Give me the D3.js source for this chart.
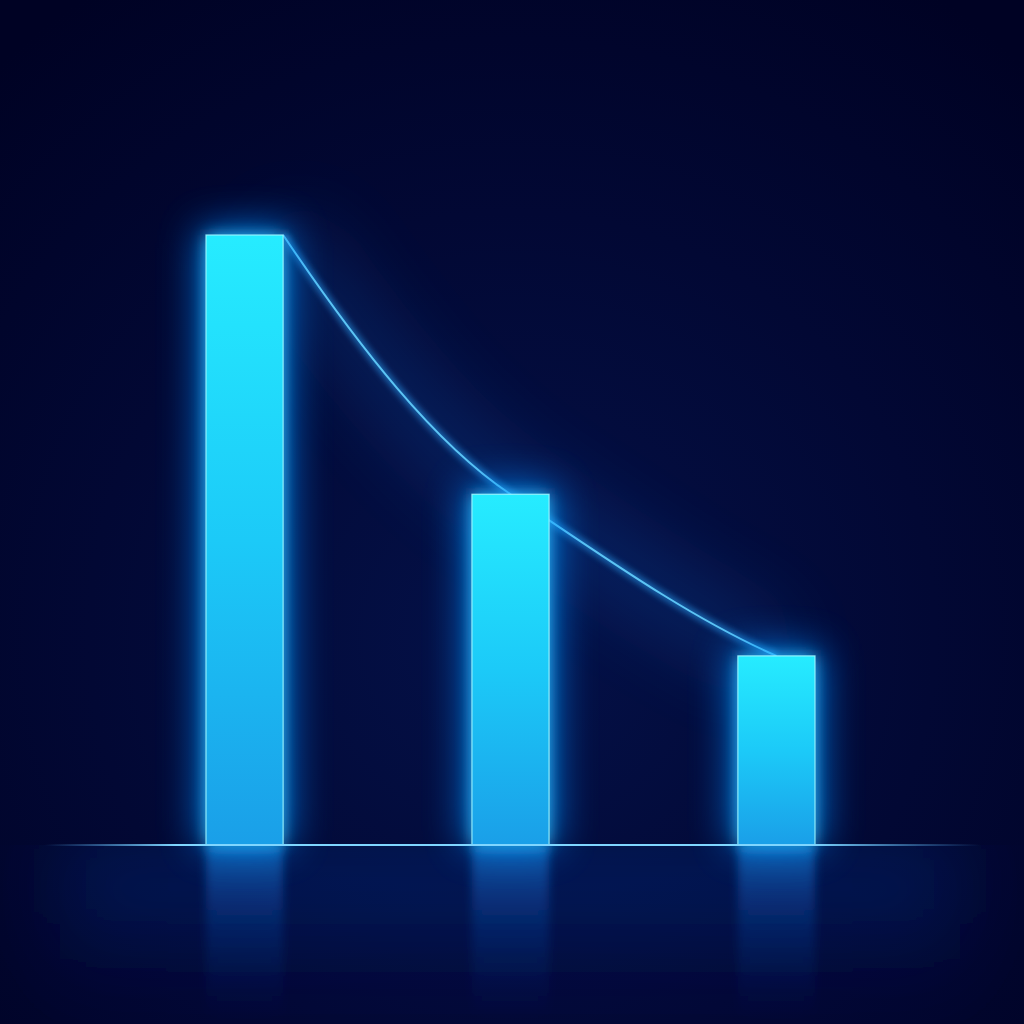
<!DOCTYPE html>
<html lang="en">
<head>
<meta charset="utf-8">
<title>Glow bars</title>
<script src="https://cdn.jsdelivr.net/npm/d3@7"></script>
<style>
  html, body { margin: 0; padding: 0; background: #01042a; }
  svg { display: block; }
</style>
</head>
<body>
<svg id="chart"></svg>
<script>
// chart data
var categories = ["A", "B", "C"];
var values = [100, 57.5, 31];
var yDomain = [0, 100];

var width = 1024;
var height = 1024;

var svg = d3.select("#chart")
    .attr("width", width)
    .attr("height", height);

var x = d3.scaleBand()
    .domain(categories)
    .range([206, 815])
    .paddingInner(0.71)
    .paddingOuter(0);

var y = d3.scaleLinear()
    .domain(yDomain)
    .range([845, 235]);

var bw = x.bandwidth();
var base = y(0);

var defs = svg.append("defs");

// background glow
var bg = defs.append("radialGradient")
    .attr("id", "bg")
    .attr("cx", 0.5).attr("cy", 0.62).attr("r", 0.75);
bg.append("stop").attr("offset", "0%").attr("stop-color", "#041148");
bg.append("stop").attr("offset", "55%").attr("stop-color", "#020834");
bg.append("stop").attr("offset", "100%").attr("stop-color", "#000224");

var barGrad = defs.append("linearGradient")
    .attr("id", "barGrad")
    .attr("x1", 0).attr("y1", 0).attr("x2", 0).attr("y2", 1);
barGrad.append("stop").attr("offset", "0%").attr("stop-color", "#26ecff");
barGrad.append("stop").attr("offset", "50%").attr("stop-color", "#1ccaf8");
barGrad.append("stop").attr("offset", "100%").attr("stop-color", "#1a9fe8");

var refGrad = defs.append("linearGradient")
    .attr("id", "refGrad")
    .attr("x1", 0).attr("y1", 0).attr("x2", 0).attr("y2", 1);
refGrad.append("stop").attr("offset", "0%").attr("stop-color", "#1b86e0").attr("stop-opacity", 0.6);
refGrad.append("stop").attr("offset", "35%").attr("stop-color", "#1460c8").attr("stop-opacity", 0.3);
refGrad.append("stop").attr("offset", "100%").attr("stop-color", "#0a2a80").attr("stop-opacity", 0);

var lineGrad = defs.append("linearGradient")
    .attr("id", "lineGrad")
    .attr("gradientUnits", "userSpaceOnUse")
    .attr("x1", 45).attr("y1", 0).attr("x2", 980).attr("y2", 0);
lineGrad.append("stop").attr("offset", "0%").attr("stop-color", "#5ab8ff").attr("stop-opacity", 0);
lineGrad.append("stop").attr("offset", "14%").attr("stop-color", "#7fd6ff").attr("stop-opacity", 1);
lineGrad.append("stop").attr("offset", "82%").attr("stop-color", "#7fd6ff").attr("stop-opacity", 1);
lineGrad.append("stop").attr("offset", "100%").attr("stop-color", "#5ab8ff").attr("stop-opacity", 0);

var floorGrad = defs.append("linearGradient")
    .attr("id", "floorGrad")
    .attr("x1", 0).attr("y1", 0).attr("x2", 0).attr("y2", 1);
floorGrad.append("stop").attr("offset", "0%").attr("stop-color", "#0a3a98").attr("stop-opacity", 0.45);
floorGrad.append("stop").attr("offset", "100%").attr("stop-color", "#06186a").attr("stop-opacity", 0);

defs.append("clipPath")
    .attr("id", "floorClip")
    .append("rect")
    .attr("x", 0).attr("y", base)
    .attr("width", width).attr("height", height - base);

function blur(id, sd) {
    defs.append("filter")
        .attr("id", id)
        .attr("x", "-100%").attr("y", "-100%")
        .attr("width", "300%").attr("height", "300%")
        .append("feGaussianBlur")
        .attr("stdDeviation", sd);
}
blur("blurHuge", 40);
blur("blurBig", 20);
blur("blurMid", 8);
blur("blurSmall", 3);
defs.append("filter")
    .attr("id", "blurRef")
    .attr("x", "-50%").attr("y", "-20%")
    .attr("width", "200%").attr("height", "140%")
    .append("feGaussianBlur")
    .attr("stdDeviation", "5 3");

svg.append("rect")
    .attr("width", width)
    .attr("height", height)
    .attr("fill", "url(#bg)");

// soft light on the floor under the baseline
svg.append("g")
    .attr("clip-path", "url(#floorClip)")
    .append("rect")
    .attr("x", 60).attr("y", base)
    .attr("width", 900).attr("height", 160)
    .attr("fill", "url(#floorGrad)")
    .attr("filter", "url(#blurHuge)");

// trend curve: bar1 top-right corner, then tops of bar2 and bar3
var bend = 0.8; // softens tangents at inner points
var pts = [
    { x: x(categories[0]) + bw, y: y(values[0]), v: values[0] },
    { x: x(categories[1]) + bw / 2, y: y(values[1]), v: values[1] },
    { x: x(categories[2]) + bw / 2, y: y(values[2]), v: values[2] }
];
var rates = [];
for (var i = 0; i < pts.length - 1; i++) {
    rates.push(Math.log(pts[i].v / pts[i + 1].v) / (pts[i + 1].x - pts[i].x));
}
pts.forEach(function(p, i) {
    var k = i === 0 ? rates[0]
        : i === pts.length - 1 ? rates[rates.length - 1]
        : bend * (rates[i - 1] + rates[i]) / 2;
    p.m = k * (base - p.y);
});
var curve = d3.path();
curve.moveTo(pts[0].x, pts[0].y);
for (var j = 0; j < pts.length - 1; j++) {
    var a = pts[j], b = pts[j + 1], dx = (b.x - a.x) / 3;
    curve.bezierCurveTo(a.x + dx, a.y + a.m * dx, b.x - dx, b.y - b.m * dx, b.x, b.y);
}

svg.append("path")
    .attr("d", curve.toString())
    .attr("fill", "none")
    .attr("stroke", "#1a6fd8")
    .attr("stroke-width", 50)
    .attr("opacity", 0.3)
    .attr("filter", "url(#blurHuge)");

svg.append("path")
    .attr("d", curve.toString())
    .attr("fill", "none")
    .attr("stroke", "#2aa8ff")
    .attr("stroke-width", 7)
    .attr("opacity", 0.55)
    .attr("filter", "url(#blurSmall)");

svg.append("path")
    .attr("d", curve.toString())
    .attr("fill", "none")
    .attr("stroke", "#5cc4f4")
    .attr("stroke-width", 2);

// reflections under the baseline
svg.selectAll(".ref")
    .data(values)
    .enter()
    .append("rect")
    .attr("class", "ref")
    .attr("x", function(d, i) { return x(categories[i]); })
    .attr("y", base)
    .attr("width", bw)
    .attr("height", 175)
    .attr("fill", "url(#refGrad)")
    .attr("filter", "url(#blurRef)");

// bar glow
svg.selectAll(".glow")
    .data(values)
    .enter()
    .append("rect")
    .attr("class", "glow")
    .attr("x", function(d, i) { return x(categories[i]) - 6; })
    .attr("y", function(d) { return y(d) - 6; })
    .attr("width", bw + 12)
    .attr("height", function(d) { return base - y(d) + 6; })
    .attr("fill", "#108cff")
    .attr("opacity", 0.8)
    .attr("filter", "url(#blurBig)");

svg.selectAll(".glow2")
    .data(values)
    .enter()
    .append("rect")
    .attr("class", "glow2")
    .attr("x", function(d, i) { return x(categories[i]); })
    .attr("y", function(d) { return y(d); })
    .attr("width", bw)
    .attr("height", function(d) { return base - y(d); })
    .attr("fill", "#20c8ff")
    .attr("opacity", 0.85)
    .attr("filter", "url(#blurMid)");

svg.selectAll(".bar")
    .data(values)
    .enter()
    .append("rect")
    .attr("class", "bar")
    .attr("x", function(d, i) { return x(categories[i]); })
    .attr("y", function(d) { return y(d); })
    .attr("width", bw)
    .attr("height", function(d) { return base - y(d); })
    .attr("fill", "url(#barGrad)")
    .attr("stroke", "#a6f8ff")
    .attr("stroke-opacity", 0.85)
    .attr("stroke-width", 1.2);

// baseline
svg.append("line")
    .attr("x1", 45).attr("x2", 980)
    .attr("y1", base).attr("y2", base)
    .attr("stroke", "url(#lineGrad)")
    .attr("stroke-width", 8)
    .attr("opacity", 0.7)
    .attr("filter", "url(#blurSmall)");

svg.append("line")
    .attr("x1", 45).attr("x2", 980)
    .attr("y1", base).attr("y2", base)
    .attr("stroke", "url(#lineGrad)")
    .attr("stroke-width", 2);
</script>
</body>
</html>
